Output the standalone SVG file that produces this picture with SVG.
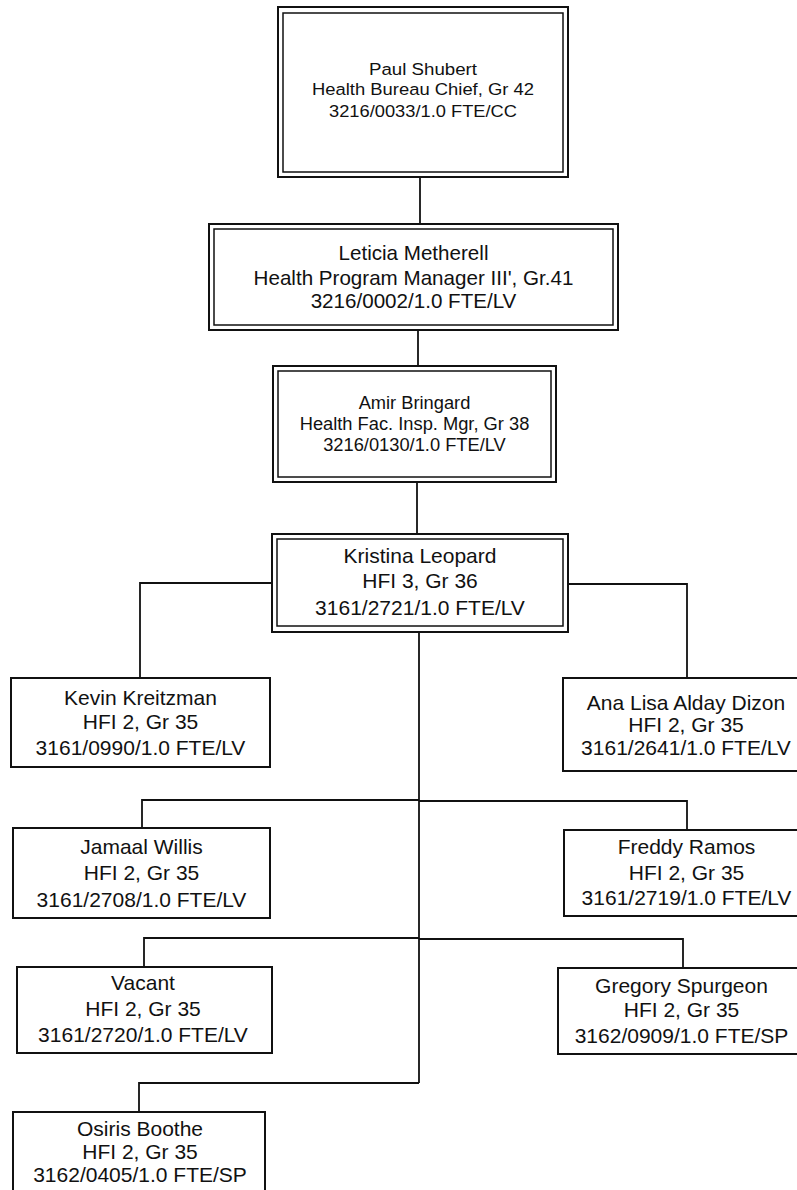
<svg xmlns="http://www.w3.org/2000/svg" width="797" height="1190" viewBox="0 0 797 1190">
<style>
.bg{fill:#fff}
.outer{fill:#fff;stroke:#111;stroke-width:2}
.inner{fill:none;stroke:#111;stroke-width:1.5}
.box{fill:#fff;stroke:#111;stroke-width:2}
.conn{fill:none;stroke:#111;stroke-width:1.8}
text{font-family:"Liberation Sans",Arial,sans-serif;fill:#111;text-anchor:middle}
.t17{font-size:17.4px}
.t18b{font-size:18.3px}
.t20{font-size:20.6px}
.t21{font-size:21px}
</style>
<rect class="bg" x="0" y="0" width="797" height="1190"/>
<g id="connectors">
<path class="conn" d="M420 177V224"/>
<path class="conn" d="M418 330V366"/>
<path class="conn" d="M417 482V534"/>
<path class="conn" d="M272 583H140V678"/>
<path class="conn" d="M568 584H687V678"/>
<path class="conn" d="M419 632V1083"/>
<path class="conn" d="M419 800H142V828"/>
<path class="conn" d="M419 801H687V830"/>
<path class="conn" d="M419 938H144V967"/>
<path class="conn" d="M419 939H683V968"/>
<path class="conn" d="M419 1083H139V1112"/>
</g>
<g id="paul">
<rect class="outer" x="278" y="7" width="290" height="170"/>
<rect class="inner" x="283" y="13" width="280" height="159"/>
<text class="t17" x="423" y="74.5" textLength="108" lengthAdjust="spacingAndGlyphs">Paul Shubert</text>
<text class="t17" x="423" y="94.5" textLength="222" lengthAdjust="spacingAndGlyphs">Health Bureau Chief, Gr 42</text>
<text class="t17" x="423" y="117" textLength="188" lengthAdjust="spacingAndGlyphs">3216/0033/1.0 FTE/CC</text>
</g>
<g id="leticia">
<rect class="outer" x="209" y="224" width="409" height="106"/>
<rect class="inner" x="214" y="229" width="399" height="96"/>
<text class="t20" x="413.5" y="260">Leticia Metherell</text>
<text class="t20" x="413.5" y="285">Health Program Manager III', Gr.41</text>
<text class="t20" x="413.5" y="308">3216/0002/1.0 FTE/LV</text>
</g>
<g id="amir">
<rect class="outer" x="273" y="366" width="283" height="116"/>
<rect class="inner" x="278" y="371" width="273" height="106"/>
<text class="t18b" x="414.5" y="409">Amir Bringard</text>
<text class="t18b" x="414.5" y="430">Health Fac. Insp. Mgr, Gr 38</text>
<text class="t18b" x="414.5" y="451">3216/0130/1.0 FTE/LV</text>
</g>
<g id="kristina">
<rect class="outer" x="272" y="534" width="296" height="98"/>
<rect class="inner" x="277" y="539" width="286" height="87"/>
<text class="t21" x="420" y="563">Kristina Leopard</text>
<text class="t21" x="420" y="588">HFI 3, Gr 36</text>
<text class="t21" x="420" y="615">3161/2721/1.0 FTE/LV</text>
</g>
<g id="kevin">
<rect class="box" x="11" y="678" width="259" height="89"/>
<text class="t21" x="140.5" y="705">Kevin Kreitzman</text>
<text class="t21" x="140.5" y="729">HFI 2, Gr 35</text>
<text class="t21" x="140.5" y="755">3161/0990/1.0 FTE/LV</text>
</g>
<g id="ana">
<rect class="box" x="563" y="678" width="245" height="93"/>
<text class="t21" x="686" y="710">Ana Lisa Alday Dizon</text>
<text class="t21" x="686" y="732">HFI 2, Gr 35</text>
<text class="t21" x="686" y="755">3161/2641/1.0 FTE/LV</text>
</g>
<g id="jamaal">
<rect class="box" x="13" y="828" width="257" height="90"/>
<text class="t21" x="141.5" y="854">Jamaal Willis</text>
<text class="t21" x="141.5" y="880">HFI 2, Gr 35</text>
<text class="t21" x="141.5" y="907">3161/2708/1.0 FTE/LV</text>
</g>
<g id="freddy">
<rect class="box" x="564" y="830" width="245" height="86"/>
<text class="t21" x="686.5" y="854">Freddy Ramos</text>
<text class="t21" x="686.5" y="880">HFI 2, Gr 35</text>
<text class="t21" x="686.5" y="905">3161/2719/1.0 FTE/LV</text>
</g>
<g id="vacant">
<rect class="box" x="17" y="967" width="255" height="86"/>
<text class="t21" x="143" y="990">Vacant</text>
<text class="t21" x="143" y="1016">HFI 2, Gr 35</text>
<text class="t21" x="143" y="1042">3161/2720/1.0 FTE/LV</text>
</g>
<g id="gregory">
<rect class="box" x="558" y="968" width="250" height="86"/>
<text class="t21" x="681.5" y="993">Gregory Spurgeon</text>
<text class="t21" x="681.5" y="1017">HFI 2, Gr 35</text>
<text class="t21" x="681.5" y="1043">3162/0909/1.0 FTE/SP</text>
</g>
<g id="osiris">
<rect class="box" x="13" y="1112" width="252" height="90"/>
<text class="t21" x="140" y="1136">Osiris Boothe</text>
<text class="t21" x="140" y="1159">HFI 2, Gr 35</text>
<text class="t21" x="140" y="1182">3162/0405/1.0 FTE/SP</text>
</g>
</svg>
